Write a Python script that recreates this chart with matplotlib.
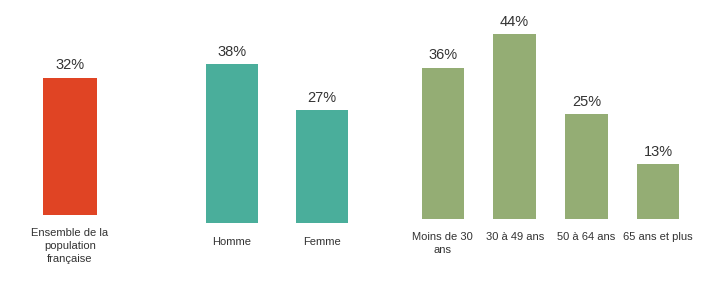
import matplotlib.pyplot as plt

plt.rcParams['font.family'] = ['Liberation Sans', 'DejaVu Sans']

# data
ens_labels = ["Ensemble de la\npopulation\nfrançaise"]
ens_values = [32]
sexe_labels = ["Homme", "Femme"]
sexe_values = [38, 27]
age_labels = ["Moins de 30\nans", "30 à 49 ans", "50 à 64 ans", "65 ans et plus"]
age_values = [36, 44, 25, 13]

W, H = 728, 300
fig = plt.figure(figsize=(W / 100, H / 100), dpi=100)

YMAX = 50


def panel(left, right, base, scale, labels, values, color, width, pad):
    # left/right/base in pixel coords (top-origin), scale in px per percent
    h = YMAX * scale
    ax = fig.add_axes([left / W, (H - base) / H, (right - left) / W, h / H])
    x = range(len(values))
    bars = ax.bar(x, values, width=width, color=color)
    for b, v in zip(bars, values):
        ax.text(b.get_x() + b.get_width() / 2, v + 1.3, f"{v}%",
                ha='center', va='bottom', fontsize=10.5, color='#333333')
    ax.set_xlim(-0.5, len(values) - 0.5)
    ax.set_ylim(0, YMAX)
    ax.set_xticks(list(x))
    ax.set_xticklabels(labels, fontsize=8, color='#333333', linespacing=1.4)
    ax.tick_params(axis='x', length=0, pad=pad)
    ax.set_yticks([])
    for s in ax.spines.values():
        s.set_visible(False)
    return ax


panel(20, 120, 215, 4.28, ens_labels, ens_values, '#E04424', 0.54, 9)
panel(187, 367, 223, 4.18, sexe_labels, sexe_values, '#4AAE9B', 0.58, 10)
panel(407, 694, 219, 4.2, age_labels, age_values, '#94AD74', 0.59, 9)

fig.savefig("out.png", dpi=100)
